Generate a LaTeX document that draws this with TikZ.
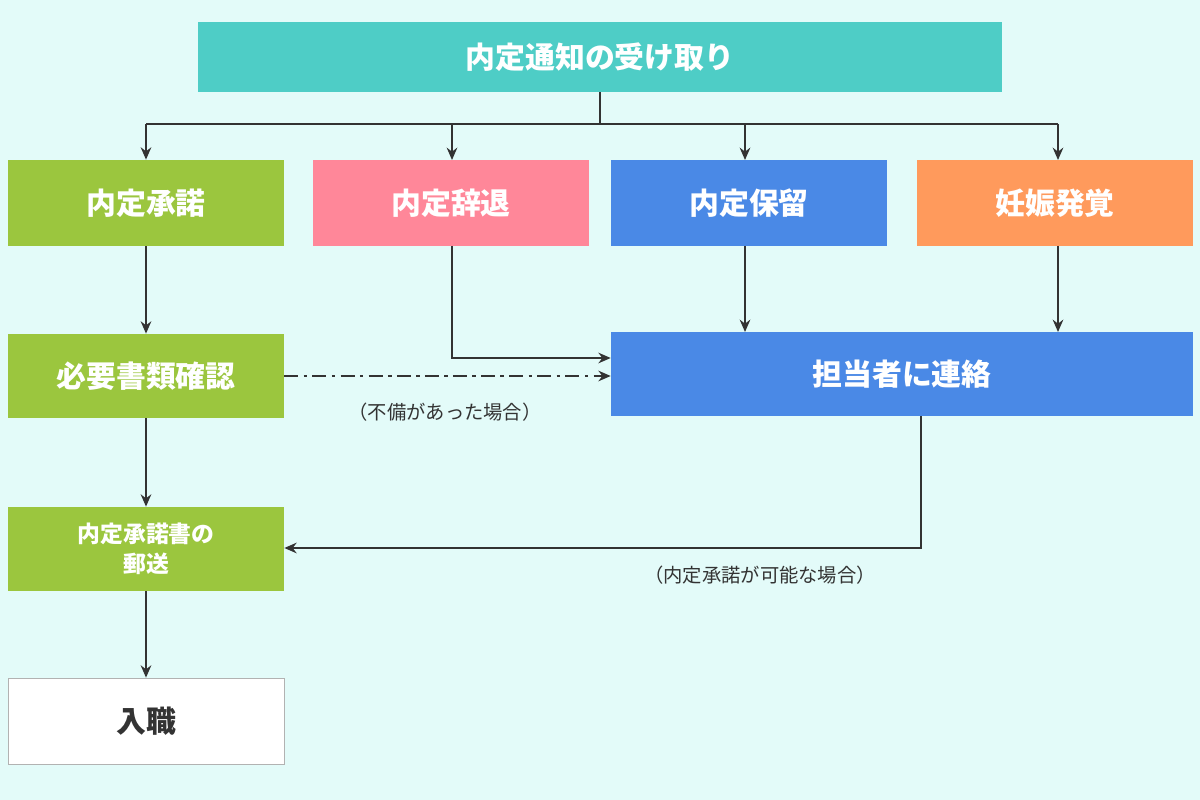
\documentclass[tikz,border=0pt]{standalone}
\usepackage{fontspec}
\newfontfamily\cjk{Noto Sans CJK JP}
\usetikzlibrary{arrows.meta}
\definecolor{bgcol}{HTML}{E3FBF9}
\definecolor{teal}{HTML}{4ECDC6}
\definecolor{leaf}{HTML}{9BC63E}
\definecolor{pinkc}{HTML}{FF8799}
\definecolor{bluec}{HTML}{4A89E6}
\definecolor{orangec}{HTML}{FF9A5C}
\definecolor{ink}{HTML}{333333}
\tikzset{
    box/.style={rectangle, draw=none, text=white, inner sep=0pt,
    	font=\cjk\bfseries\fontsize{17}{20}\selectfont},
    link/.style={draw=ink, line width=1.2pt, -{Stealth[length=7pt,width=6pt]}},
    note/.style={text=ink, font=\cjk\fontsize{11}{13}\selectfont}
}

\begin{document}
\begin{tikzpicture}[x=0.02cm, y=-0.02cm]
  \fill[bgcol] (0,0) rectangle (1200,800);
  \useasboundingbox (0,0) rectangle (1200,800);

  \node (top) [box, fill=teal, minimum width=16.08cm, minimum height=1.4cm] at (600,57) {内定通知の受け取り};
  \node (accept) [box, fill=leaf, minimum width=5.52cm, minimum height=1.72cm] at (146,203) {内定承諾};
  \node (decline) [box, fill=pinkc, minimum width=5.52cm, minimum height=1.72cm] at (451,203) {内定辞退};
  \node (hold) [box, fill=bluec, minimum width=5.52cm, minimum height=1.72cm] at (749,203) {内定保留};
  \node (preg) [box, fill=orangec, minimum width=5.52cm, minimum height=1.72cm] at (1055,203) {妊娠発覚};
  \node (docs) [box, fill=leaf, minimum width=5.52cm, minimum height=1.68cm] at (146,376) {必要書類確認};
  \node (contact) [box, fill=bluec, minimum width=11.64cm, minimum height=1.68cm] at (902,374) {担当者に連絡};
  \node (mail) [box, fill=leaf, minimum width=5.52cm, minimum height=1.68cm, align=center,
    font=\cjk\bfseries\fontsize{13}{17}\selectfont] at (146,549) {内定承諾書の\\郵送};
  \node (join) [box, fill=white, draw=gray!60, text=ink, minimum width=5.52cm, minimum height=1.72cm] at (146,721) {入職};

  \coordinate (split) at (600,124);
  \draw[draw=ink, line width=1.2pt] (top.south) -- (split);
  \draw[draw=ink, line width=1.2pt] (146,124) -- (1058,124);
  \draw[link] (146,124) -- (accept.north);
  \draw[link] (452,124) -- (452,160);
  \draw[link] (745,124) -- (745,160);
  \draw[link] (1058,124) -- (1058,160);

  \draw[link] (accept.south) -- (docs.north);
  \draw[link] (452,246) |- (contact.west |- 0,358);
  \draw[link] (745,246) -- (745,332);
  \draw[link] (1058,246) -- (1058,332);
  \draw[link, dash pattern=on 8pt off 3pt on 2pt off 3pt] (docs.east) -- (contact.west |- docs.east);
  \node (n1) [note] at (445,412) {（不備があった場合）};
  \draw[link] (921,416) |- (mail.east |- 0,548);
  \node (n2) [note] at (760,575) {（内定承諾が可能な場合）};
  \draw[link] (docs.south) -- (mail.north);
  \draw[link] (mail.south) -- (join.north);
\end{tikzpicture}
\end{document}
